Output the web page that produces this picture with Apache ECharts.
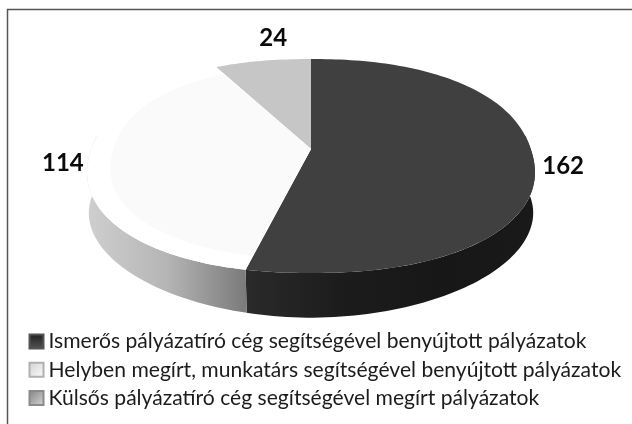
<!DOCTYPE html>
<html><head><meta charset="utf-8">
<script src="https://cdn.jsdelivr.net/npm/echarts@6/dist/echarts.min.js"></script>
<style>html,body{margin:0;padding:0;background:#fff}#c{width:632px;height:424px}</style>
</head><body><div id="c"></div>
<script>
const categories = ['Ismerős pályázatíró cég segítségével benyújtott pályázatok','Helyben megírt, munkatárs segítségével benyújtott pályázatok','Külsős pályázatíró cég segítségével megírt pályázatok'];
const values = [162, 114, 24];

const total = values.reduce((a,b)=>a+b,0);
const CX=311, CY=149, A=219.7, B=104.3, K=0.159, DEPTH=49, BX=1.0, BY=0.965, SQUARE_TOP=2.2, SQUARE_BOTTOM=1.95;
const grad=(stops,x2=1,y2=0)=>({type:'linear',x:0,y:0,x2,y2,colorStops:stops.map((c,i)=>({offset:i/(stops.length-1),color:c}))});
const topFill=['#404040','#ffffff','#c6c6c6'];
const innerFill=[null,'#fafafa',null];
const wallFill=[grad(['#2a2a2a','#1c1c1c','#171717','#191919']),grad(['#cfcfcf','#b5b5b5','#7a7a7a']),null];
const legendFill=[grad(['#1e1e1e','#565656'],0,1),grad(['#d0d0d0','#fdfdfd'],1,1),grad(['#808080','#d8d8d8'],1,1)];
const legendEdge=['#555','#b0b0b0','#8a8a8a'];
const labelOffset=[[29,4],[-25,1],[10,-22]];
const rad=d=>d*Math.PI/180;
function pt(deg,scale,dy,sx,sy,n){
  const su=Math.sin(rad(deg)), sv=Math.cos(rad(deg));
  const r=Math.pow(Math.pow(Math.abs(su),n)+Math.pow(Math.abs(sv),n),-1/n)*scale;
  const u=su*r, v=sv*r, w=1+K*v;
  return [CX+sx*A*u/w, CY+dy-sy*B*v/w];
}
function arc(a,b,scale,dy,sx,sy,n){
  const c=Math.max(2,Math.ceil(Math.abs(b-a)/1.5)), r=[];
  for(let i=0;i<=c;i++) r.push(pt(a+(b-a)*i/c,scale,dy,sx,sy,n));
  return r;
}
const starts=[]; values.reduce((acc,v,i)=>{starts[i]=acc;return acc+v;},0);
function makeRender(idx){
  return function(params,api){
    const v=api.value(0);
    const a=starts[idx]/total*360, b=a+v/total*360;
    const children=[];
    const fa=Math.max(a,82), fb=Math.min(b,278);
    if(wallFill[idx] && fb>fa){
      const upper=arc(fa,fb,1,0,1,1,SQUARE_TOP), lower=arc(fa,fb,1,DEPTH,BX,BY,SQUARE_BOTTOM).reverse();
      children.push({type:'polygon',shape:{points:upper.concat(lower)},style:{fill:wallFill[idx]}});
    }
    children.push({type:'polygon',shape:{points:[[CX,CY]].concat(arc(a,b,1,0,1,1,SQUARE_TOP))},style:{fill:topFill[idx]}});
    if(innerFill[idx]){
      children.push({type:'polygon',shape:{points:[[CX,CY]].concat(arc(a+0.4,b-0.4,0.9,0,1,1,SQUARE_TOP))},style:{fill:innerFill[idx]}});
    }
    const m=pt((a+b)/2,1,0,1,1,SQUARE_TOP), o=labelOffset[idx];
    children.push({type:'text',style:{x:m[0]+o[0],y:m[1]+o[1],text:String(v),align:'center',verticalAlign:'middle',
      font:'bold 24px Lato, sans-serif',fill:'#0a0a0a'}});
    return {type:'group',children};
  };
}
const chart=echarts.init(document.getElementById('c'),null,{renderer:'canvas'});
chart.setOption({
  animation:false,
  backgroundColor:'#fff',
  graphic:[{type:'rect',shape:{x:7.5,y:9.5,width:640,height:430},style:{fill:'none',stroke:'#555',lineWidth:1.5},z:-1}],
  legend:{orient:'vertical',left:23.5,top:326,itemWidth:14,itemHeight:14,itemGap:7.3,icon:'rect',
    textStyle:{fontFamily:'Lato, sans-serif',fontSize:21.1,color:'#1c1c1c'},
    selectedMode:false,data:categories},
  series:categories.map((name,i)=>({
    type:'custom',name,coordinateSystem:'none',silent:true,
    itemStyle:{color:legendFill[i],borderColor:legendEdge[i],borderWidth:1},
    renderItem:makeRender(i),
    encode:{value:0},
    data:[[values[i]]],
    z:[2,2,1][i]
  }))
});
</script></body></html>
